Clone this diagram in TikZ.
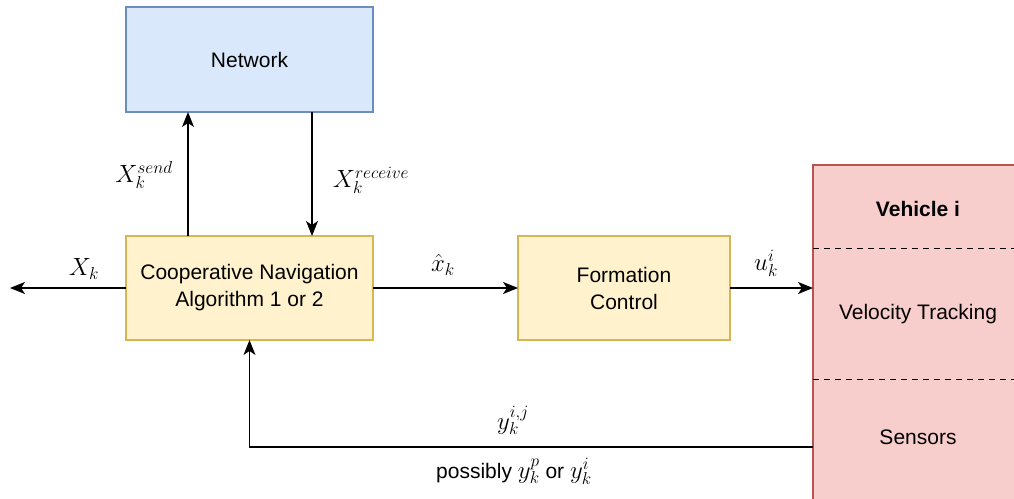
\documentclass[tikz,border=0pt]{standalone}
\usepackage{fontspec}
\setmainfont{Liberation Sans}
\usetikzlibrary{arrows.meta}
\definecolor{netfill}{HTML}{DAE8FC}
\definecolor{netline}{HTML}{6C8EBF}
\definecolor{algfill}{HTML}{FFF2CC}
\definecolor{algline}{HTML}{D6B656}
\definecolor{vehfill}{HTML}{F8CECC}
\definecolor{vehline}{HTML}{B85450}
\tikzset{
  block/.style={draw, line width=1.5pt, inner sep=0pt, outer sep=0pt, align=center,
    font=\fontsize{21}{27}\selectfont},
  netbox/.style={block, fill=netfill, draw=netline},
  algbox/.style={block, fill=algfill, draw=algline},
  vehbox/.style={block, fill=vehfill, draw=vehline},
  plain/.style={inner sep=0pt, font=\fontsize{21}{27}\selectfont},
  lbl/.style={inner sep=0pt, font=\fontsize{24}{29}\selectfont},
  flow/.style={line width=1.7pt, -{Stealth[length=15pt, width=12pt, inset=4pt]}},
  sep/.style={line width=1.3pt, dash pattern=on 6pt off 5pt}
}
\begin{document}
\begin{tikzpicture}[x=1pt, y=-1pt]
  \useasboundingbox (0,0) rectangle (1014,498);
  \clip (0,0) rectangle (1014,498);

  % blocks
  \node[netbox, minimum width=247pt, minimum height=105pt] (net) at (249.5,59.5) {Network};
  \node[algbox, minimum width=247pt, minimum height=104pt] (coop) at (249.5,288)
    {Cooperative Navigation\\Algorithm 1 or 2};
  \node[algbox, minimum width=212pt, minimum height=104pt] (form) at (624,288)
    {Formation\\Control};
  \node[vehbox, minimum width=210pt, minimum height=345pt] (veh) at (918,337.5) {};

  % vehicle compartments
  \node[plain, font=\fontsize{21}{27}\selectfont\bfseries] (vtitle) at (918,209) {Vehicle i};
  \node[plain] (vtrack) at (918,314) {Velocity Tracking};
  \node[plain] (vsens) at (918,437) {Sensors};
  \draw[sep] ([yshift=-83.5pt]veh.north west) -- ([yshift=-83.5pt]veh.north east);
  \draw[sep] ([yshift=-214.5pt]veh.north west) -- ([yshift=-214.5pt]veh.north east);

  % state output
  \coordinate (out) at (10,288);
  \draw[flow] (coop.west) -- (out);
  \node[lbl] (lx) at (84,269) {$X_k$};

  % network exchange
  \draw[flow] ([xshift=-61.5pt]coop.north) -- ([xshift=-61.5pt]net.south);
  \draw[flow] ([xshift=62.5pt]net.south) -- ([xshift=62.5pt]coop.north);
  \node[lbl] (lsend) at (144,175) {$X_k^{send}$};
  \node[lbl] (lrecv) at (371,180) {$X_k^{receive}$};

  % estimate to formation control, command to vehicle
  \draw[flow] (coop.east) -- (form.west);
  \node[lbl] (lxhat) at (443,265) {$\hat{x}_k$};
  \draw[flow] (form.east) -- (form.east -| veh.west);
  \node[lbl] (lu) at (766,263) {$u_k^i$};

  % measurement feedback
  \coordinate (fb) at ([yshift=-10pt]vsens.center -| veh.west);
  \draw[flow] (fb) -| (coop.south);
  \node[lbl] (ly) at (513,420) {$y_k^{i,j}$};
  \node[plain] (lposs) at (514,471) {possibly {\fontsize{24}{29}\selectfont$y_k^p$} or {\fontsize{24}{29}\selectfont$y_k^i$}};
\end{tikzpicture}
\end{document}
